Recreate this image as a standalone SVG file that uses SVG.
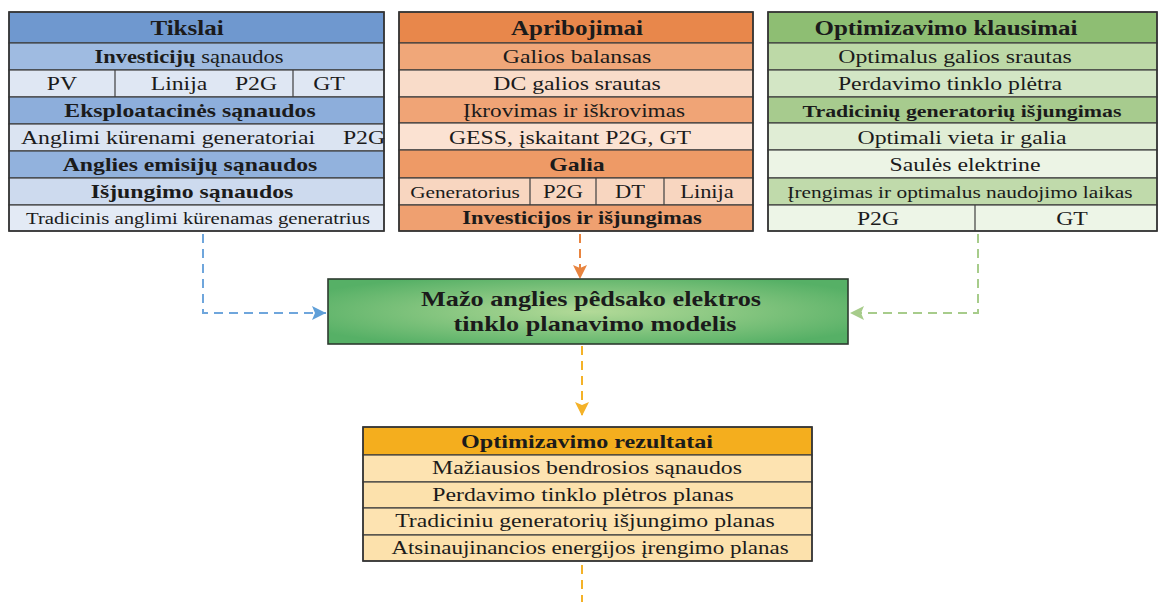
<svg xmlns="http://www.w3.org/2000/svg" width="1160" height="602" viewBox="0 0 1160 602">
<defs>
<style>
text{font-family:"Liberation Serif","Times New Roman",serif;fill:#1b1b1b;text-anchor:middle}
.t{font-size:20px;font-weight:bold}
.b{font-size:19px;font-weight:bold}
.r{font-size:19px}
.row{stroke:#3e3e3e;stroke-width:1.2}
.frame{fill:none;stroke:#333;stroke-width:1.6}
.conn{fill:none;stroke-width:2;stroke-dasharray:9 6}
</style>
<radialGradient id="gc" cx="0.5" cy="0.5" r="0.6">
<stop offset="0" stop-color="#b3da98"/>
<stop offset="1" stop-color="#56b066"/>
</radialGradient>
<marker id="ab" viewBox="0 0 14 14" refX="14" refY="7" markerWidth="14" markerHeight="14" markerUnits="userSpaceOnUse" orient="auto"><path d="M0,0 L14,7 L0,14 L3,7 z" fill="#5f9fd8"/></marker>
<marker id="ao" viewBox="0 0 14 14" refX="14" refY="7" markerWidth="14" markerHeight="14" markerUnits="userSpaceOnUse" orient="auto"><path d="M0,0 L14,7 L0,14 L3,7 z" fill="#e8843f"/></marker>
<marker id="ag" viewBox="0 0 14 14" refX="14" refY="7" markerWidth="14" markerHeight="14" markerUnits="userSpaceOnUse" orient="auto"><path d="M0,0 L14,7 L0,14 L3,7 z" fill="#a7cc8b"/></marker>
<marker id="ay" viewBox="0 0 14 14" refX="14" refY="7" markerWidth="14" markerHeight="14" markerUnits="userSpaceOnUse" orient="auto"><path d="M0,0 L14,7 L0,14 L3,7 z" fill="#f4b228"/></marker>
</defs>
<rect width="1160" height="602" fill="#ffffff"/>

<g id="connectors">
<path class="conn" stroke="#6fa6dc" d="M203,234 V313 H326" marker-end="url(#ab)"/>
<path class="conn" stroke="#e8843f" d="M580,234 V279" marker-end="url(#ao)"/>
<path class="conn" stroke="#a7cc8b" d="M978,234 V313 H850" marker-end="url(#ag)"/>
<path class="conn" stroke="#f4b228" d="M582,346 V416" marker-end="url(#ay)"/>
<path class="conn" stroke="#f4b228" d="M582,565 V602"/>
</g>

<g id="tikslai">
<rect class="row" x="9" y="12" width="375" height="31" fill="#6f98cf"/>
<rect class="row" x="9" y="43" width="375" height="27" fill="#9fbbe1"/>
<rect class="row" x="9" y="70" width="375" height="27" fill="#dfe7f3"/>
<rect class="row" x="9" y="97" width="375" height="27" fill="#8daedb"/>
<rect class="row" x="9" y="124" width="375" height="27" fill="#dbe4f2"/>
<rect class="row" x="9" y="151" width="375" height="27" fill="#92b2dd"/>
<rect class="row" x="9" y="178" width="375" height="27" fill="#cddaee"/>
<rect class="row" x="9" y="205" width="375" height="26" fill="#e3eaf5"/>
<line class="row" x1="115" y1="70" x2="115" y2="97"/>
<line class="row" x1="293" y1="70" x2="293" y2="97"/>
<rect class="frame" x="9" y="12" width="375" height="219"/>
<text class="t" transform="translate(187,35) scale(1.25,1)">Tikslai</text>
<text class="r" style="font-size:18px" transform="translate(189,63) scale(1.25,1)"><tspan font-weight="bold">Investicijų</tspan> sąnaudos</text>
<text class="r" transform="translate(62,90) scale(1.25,1)">PV</text>
<text class="r" transform="translate(179,90) scale(1.25,1)">Linija</text>
<text class="r" transform="translate(256,90) scale(1.25,1)">P2G</text>
<text class="r" transform="translate(329,90) scale(1.25,1)">GT</text>
<text class="b" transform="translate(190,117) scale(1.25,1)">Eksploatacinės sąnaudos</text>
<text class="r" transform="translate(168,144) scale(1.25,1)">Anglimi kürenami generatoriai</text>
<text class="r" transform="translate(364,144) scale(1.25,1)">P2G</text>
<text class="b" transform="translate(190,171) scale(1.25,1)">Anglies emisijų sąnaudos</text>
<text class="b" transform="translate(192,198) scale(1.25,1)">Išjungimo sąnaudos</text>
<text class="r" style="font-size:16.6px" transform="translate(198,224) scale(1.25,1)">Tradicinis anglimi kürenamas generatrius</text>
</g>

<g id="apribojimai">
<rect class="row" x="399" y="12" width="354" height="31" fill="#e8874b"/>
<rect class="row" x="399" y="43" width="354" height="27" fill="#f0a779"/>
<rect class="row" x="399" y="70" width="354" height="27" fill="#f9dcc9"/>
<rect class="row" x="399" y="97" width="354" height="26" fill="#f0a476"/>
<rect class="row" x="399" y="123" width="354" height="27" fill="#fbe2d2"/>
<rect class="row" x="399" y="150" width="354" height="28" fill="#ee9a66"/>
<rect class="row" x="399" y="178" width="354" height="27" fill="#f8d6c0"/>
<rect class="row" x="399" y="205" width="354" height="26" fill="#efa070"/>
<line class="row" x1="530" y1="178" x2="530" y2="205"/>
<line class="row" x1="596" y1="178" x2="596" y2="205"/>
<line class="row" x1="664" y1="178" x2="664" y2="205"/>
<rect class="frame" x="399" y="12" width="354" height="219"/>
<text class="t" transform="translate(577,35) scale(1.25,1)">Apribojimai</text>
<text class="r" transform="translate(577,63) scale(1.25,1)">Galios balansas</text>
<text class="r" transform="translate(577,90) scale(1.25,1)">DC galios srautas</text>
<text class="r" style="font-size:18.6px" transform="translate(574,117) scale(1.25,1)">Įkrovimas ir iškrovimas</text>
<text class="r" transform="translate(570,144) scale(1.25,1)">GESS, įskaitant P2G, GT</text>
<text class="b" transform="translate(577,171) scale(1.25,1)">Galia</text>
<text class="r" style="font-size:17px" transform="translate(465,198) scale(1.25,1)">Generatorius</text>
<text class="r" style="font-size:18px" transform="translate(563,198) scale(1.25,1)">P2G</text>
<text class="r" style="font-size:18px" transform="translate(630,198) scale(1.25,1)">DT</text>
<text class="r" style="font-size:18px" transform="translate(707,198) scale(1.25,1)">Linija</text>
<text class="b" style="font-size:18px" transform="translate(582,224) scale(1.25,1)">Investicijos ir išjungimas</text>
</g>

<g id="optimizavimo-klausimai">
<rect class="row" x="768" y="12" width="389" height="31" fill="#8ebe73"/>
<rect class="row" x="768" y="43" width="389" height="27" fill="#bdd9a7"/>
<rect class="row" x="768" y="70" width="389" height="27" fill="#d3e6c5"/>
<rect class="row" x="768" y="97" width="389" height="26" fill="#a7cb8e"/>
<rect class="row" x="768" y="123" width="389" height="27" fill="#e0edd5"/>
<rect class="row" x="768" y="150" width="389" height="28" fill="#ecf4e5"/>
<rect class="row" x="768" y="178" width="389" height="27" fill="#c0daab"/>
<rect class="row" x="768" y="205" width="389" height="26" fill="#edf5e7"/>
<line class="row" x1="975" y1="205" x2="975" y2="231"/>
<rect class="frame" x="768" y="12" width="389" height="219"/>
<text class="t" transform="translate(946,35) scale(1.25,1)">Optimizavimo klausimai</text>
<text class="r" transform="translate(955,63) scale(1.25,1)">Optimalus galios srautas</text>
<text class="r" transform="translate(950,90) scale(1.25,1)">Perdavimo tinklo plėtra</text>
<text class="b" style="font-size:17.5px" transform="translate(962,117) scale(1.25,1)">Tradicinių generatorių išjungimas</text>
<text class="r" transform="translate(962,144) scale(1.25,1)">Optimali vieta ir galia</text>
<text class="r" transform="translate(965,171) scale(1.25,1)">Saulės elektrine</text>
<text class="r" style="font-size:17.1px" transform="translate(960,198) scale(1.25,1)">Įrengimas ir optimalus naudojimo laikas</text>
<text class="r" transform="translate(878,225) scale(1.25,1)">P2G</text>
<text class="r" transform="translate(1072,225) scale(1.25,1)">GT</text>
</g>

<g id="modelis">
<rect x="328" y="279" width="520" height="65" fill="url(#gc)" stroke="#2d3b30" stroke-width="1.6"/>
<text class="b" style="font-size:21px" transform="translate(591,306) scale(1.25,1)">Mažo anglies pêdsako elektros</text>
<text class="b" style="font-size:21px" transform="translate(595,331) scale(1.25,1)">tinklo planavimo modelis</text>
</g>

<g id="optimizavimo-rezultatai">
<rect class="row" x="363" y="427" width="449" height="28" fill="#f4ae1e"/>
<rect class="row" x="363" y="455" width="449" height="27" fill="#fde3b1"/>
<rect class="row" x="363" y="482" width="449" height="26" fill="#fce1ac"/>
<rect class="row" x="363" y="508" width="449" height="27" fill="#fde3b1"/>
<rect class="row" x="363" y="535" width="449" height="26" fill="#fce1ac"/>
<rect class="frame" x="363" y="427" width="449" height="134"/>
<text class="b" style="font-size:19.3px" transform="translate(587,448) scale(1.25,1)">Optimizavimo rezultatai</text>
<text class="r" transform="translate(587,474) scale(1.25,1)">Mažiausios bendrosios sąnaudos</text>
<text class="r" transform="translate(583,501) scale(1.25,1)">Perdavimo tinklo plėtros planas</text>
<text class="r" transform="translate(585,527) scale(1.25,1)">Tradiciniu generatorių išjungimo planas</text>
<text class="r" style="font-size:18.4px" transform="translate(590,554) scale(1.25,1)">Atsinaujinancios energijos įrengimo planas</text>
</g>
</svg>
